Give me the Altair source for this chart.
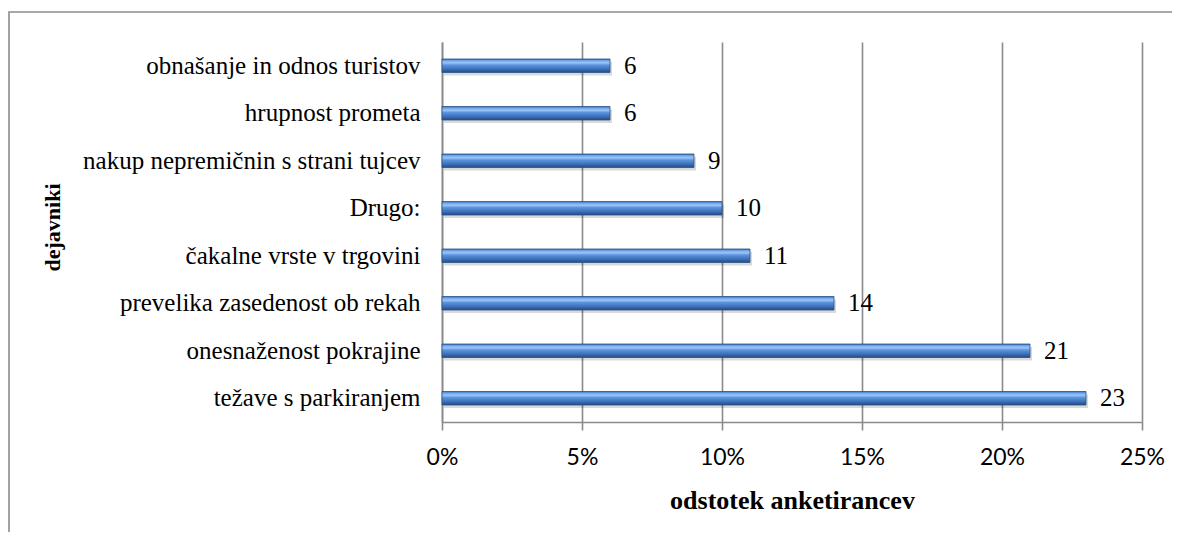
import altair as alt
import pandas as pd

categories = [
    "obnašanje in odnos turistov",
    "hrupnost prometa",
    "nakup nepremičnin s strani tujcev",
    "Drugo:",
    "čakalne vrste v trgovini",
    "prevelika zasedenost ob rekah",
    "onesnaženost pokrajine",
    "težave s parkiranjem",
]
values = [6, 6, 9, 10, 11, 14, 21, 23]
x_ticks = [0, 5, 10, 15, 20, 25]

df = pd.DataFrame({"dejavnik": categories, "odstotek": values})

SERIF = "Liberation Serif"
GRID = "#8a8a8a"

y_enc = alt.Y(
    "dejavnik:N",
    sort=categories,
    scale=alt.Scale(paddingInner=0, paddingOuter=0),
    axis=alt.Axis(
        title="dejavniki",
        titleFont=SERIF,
        titleFontSize=22,
        titleFontWeight="bold",
        titleColor="#000000",
        titleAngle=-90,
        titleX=-390,
        titleY=185,
        titleAlign="center",
        titleBaseline="middle",
        labelFont=SERIF,
        labelFontSize=25,
        labelColor="#000000",
        labelPadding=22,
        labelLimit=400,
        ticks=False,
        domain=True,
        domainColor=GRID,
        domainWidth=1.6,
        grid=False,
    ),
)

x_enc = alt.X(
    "odstotek:Q",
    scale=alt.Scale(domain=[0, 25], nice=False, zero=True),
    axis=alt.Axis(
        title="odstotek anketirancev",
        titleFont=SERIF,
        titleFontSize=26,
        titleFontWeight="bold",
        titleColor="#000000",
        titleY=78,
        titleBaseline="middle",
        values=x_ticks,
        labelExpr="datum.value + '%'",
        labelFont="Lato",
        labelFontSize=23,
        labelColor="#000000",
        labelPadding=16,
        labelFlush=False,
        labelOverlap=False,
        tickSize=8,
        tickColor=GRID,
        tickWidth=1.6,
        domainColor=GRID,
        domainWidth=1.6,
        grid=True,
        gridColor=GRID,
        gridWidth=1.6,
    ),
)

bar_gradient = alt.LinearGradient(
    gradient="linear",
    x1=0, y1=0, x2=0, y2=1,
    stops=[
        alt.GradientStop(color="#2e62a8", offset=0),
        alt.GradientStop(color="#6aa0e8", offset=0.1),
        alt.GradientStop(color="#9cc6f6", offset=0.28),
        alt.GradientStop(color="#5b93dd", offset=0.45),
        alt.GradientStop(color="#3f74bd", offset=0.72),
        alt.GradientStop(color="#234a80", offset=1),
    ],
)

base = alt.Chart(df)

shadow = base.mark_bar(size=13.5, color="#000000", opacity=0.15, yOffset=3, xOffset=2).encode(
    x=x_enc, y=y_enc
)

bars = base.mark_bar(size=13.5, color=bar_gradient, stroke="#2a5388", strokeWidth=0.8).encode(
    x=x_enc, y=y_enc
)

labels = base.mark_text(
    align="left", baseline="middle", dx=14, font=SERIF, fontSize=25, color="#000000"
).encode(x=x_enc, y=y_enc, text="odstotek:Q")

frame = alt.Chart(pd.DataFrame({"f": [0]})).mark_rect(
    fill=None, stroke="#8c8c8c", strokeWidth=1.6, clip=False
).encode(
    x=alt.value(-433), x2=alt.value(900), y=alt.value(-30), y2=alt.value(700)
)

chart = (
    alt.layer(frame, shadow, bars, labels)
    .properties(
        width=700,
        height=380,
        autosize=alt.AutoSizeParams(type="none"),
        padding={"left": 434, "top": 34, "right": 30, "bottom": 110},
        background="#ffffff",
    )
    .configure_view(stroke=None)
)

chart.save("out.html", embed_options={"renderer": "svg", "actions": False})
